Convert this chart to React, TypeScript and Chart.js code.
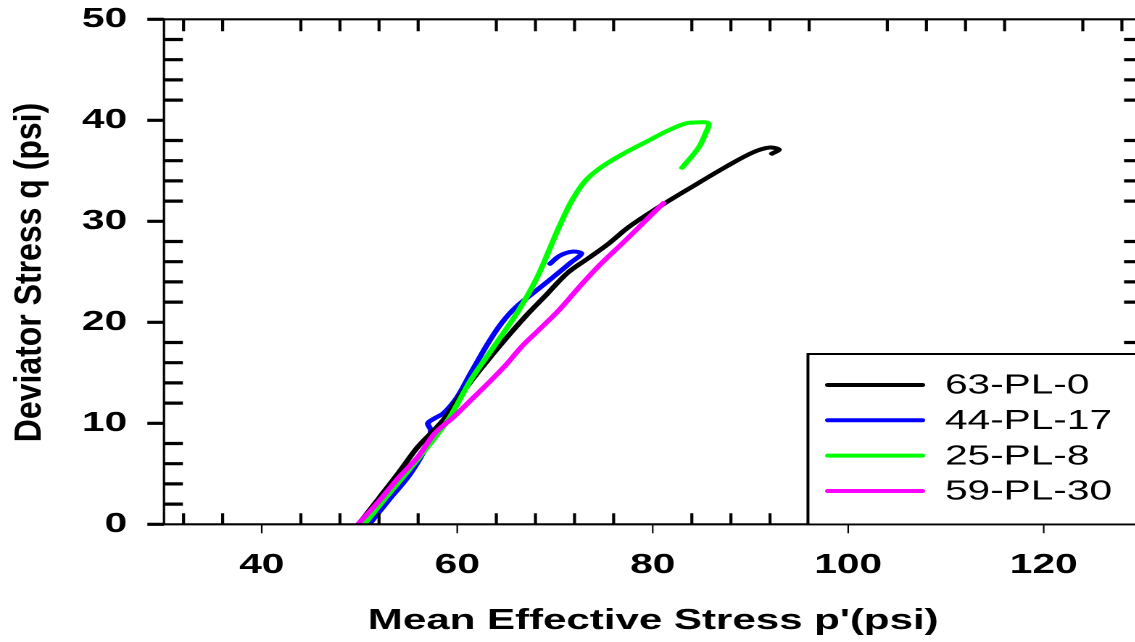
import React, { useEffect, useRef } from "react";
import { Chart, registerables } from "chart.js";

Chart.register(...registerables);

// ---------- data ----------
const seriesLabels = ["63-PL-0", "44-PL-17", "25-PL-8", "59-PL-30"];
const seriesColors = ["#000000", "#0000ff", "#00ff00", "#ff00ff"];

const blackP = [49.9, 52, 54, 56, 57.7, 58.8, 60.5, 62.5, 64.9, 67.0, 69.0, 71.3, 73.5, 75.5, 77.5, 80.6, 84.0, 87.5, 90.2, 91.9, 92.9, 92.2];
const blackQ = [0, 2.6, 5.1, 7.7, 9.4, 10.6, 13.0, 15.5, 18.3, 20.6, 22.6, 24.9, 26.4, 27.8, 29.4, 31.4, 33.4, 35.4, 36.8, 37.3, 37.1, 36.7];

const blueP = [51.0, 53, 55.2, 57.0, 57.3, 57.0, 57.7, 58.6, 60.0, 61.4, 63.2, 64.6, 66.0, 68.3, 70.1, 71.6, 72.7, 71.8, 70.5, 69.5];
const blueQ = [0, 2.4, 5.0, 8.0, 9.3, 10.0, 10.5, 11.0, 12.6, 15.0, 18.0, 20.0, 21.5, 23.3, 24.7, 25.9, 26.8, 27.0, 26.6, 25.8];

const greenP = [50.5, 53, 55, 57.0, 59.1, 61.4, 63.9, 66.3, 68.2, 69.6, 70.4, 71.7, 73.1, 74.8, 77.2, 79.6, 81.6, 83.4, 84.7, 85.7, 85.4, 84.7, 83.0];
const greenQ = [0, 3.0, 5.3, 7.7, 10.4, 14.3, 17.8, 21.2, 24.5, 27.6, 29.4, 32.0, 34.0, 35.4, 36.8, 38.0, 39.0, 39.7, 39.8, 39.7, 38.7, 37.3, 35.3];

const magentaP = [49.85, 52, 54, 56.0, 57.7, 59.6, 61.4, 63.3, 65.0, 66.6, 68.3, 70.4, 72.4, 74.5, 77.2, 79.3, 81.1];
const magentaQ = [0, 2.3, 4.6, 6.7, 9.0, 10.6, 12.3, 14.1, 15.8, 17.6, 19.2, 21.2, 23.4, 25.6, 28.1, 30.1, 31.8];

const seriesP = [blackP, blueP, greenP, magentaP];
const seriesQ = [blackQ, blueQ, greenQ, magentaQ];
const drawOrder = [2, 3, 1, 0];

const xMajorTicks = [40, 60, 80, 100, 120];
const xMinorTicks = [32, 36, 44, 48, 52, 56, 64, 68, 72, 76, 84, 88, 92, 96, 104, 108, 112, 116, 124, 128];
const yMajorTicks = [0, 10, 20, 30, 40, 50];
const yMinorTicks = [2, 4, 6, 8, 12, 14, 16, 18, 22, 24, 26, 28, 32, 34, 36, 38, 42, 44, 46, 48];

const xTitle = "Mean Effective Stress p'(psi)";
const yTitle = "Deviator Stress q (psi)";

const FONT = "'Liberation Sans', Arial, sans-serif";
const STRETCH = 1.45;

const framePlugin = {
  id: "framePlugin",
  afterDraw(chart: any) {
    const ctx = chart.ctx as CanvasRenderingContext2D;
    const { left, right, top, bottom } = chart.chartArea;
    const xs = chart.scales.x;
    const ys = chart.scales.y;
    ctx.save();
    ctx.strokeStyle = "#000";
    ctx.lineCap = "butt";

    // frame
    ctx.lineWidth = 2.2;
    ctx.beginPath();
    ctx.moveTo(left - 0.8, top);
    ctx.lineTo(right, top);
    ctx.moveTo(left - 0.8, bottom);
    ctx.lineTo(right, bottom);
    ctx.stroke();
    ctx.lineWidth = 1.6;
    ctx.beginPath();
    ctx.moveTo(left, top);
    ctx.lineTo(left, bottom);
    ctx.moveTo(right, top);
    ctx.lineTo(right, bottom);
    ctx.stroke();

    // y ticks
    ctx.lineWidth = 3.2;
    ctx.beginPath();
    for (const v of yMinorTicks) {
      const y = ys.getPixelForValue(v);
      ctx.moveTo(left, y);
      ctx.lineTo(left + 13, y);
      ctx.moveTo(right, y);
      ctx.lineTo(right - 12, y);
    }
    for (const v of yMajorTicks) {
      const y = ys.getPixelForValue(v);
      ctx.moveTo(left - 11.5, y);
      ctx.lineTo(left, y);
    }
    ctx.stroke();

    // x ticks
    ctx.lineWidth = 2.1;
    ctx.beginPath();
    for (const v of xMinorTicks) {
      const x = xs.getPixelForValue(v);
      ctx.moveTo(x, bottom);
      ctx.lineTo(x, bottom - 11);
      ctx.moveTo(x, top);
      ctx.lineTo(x, top + 12);
    }
    ctx.stroke();
    ctx.lineWidth = 1.1;
    ctx.beginPath();
    for (const v of xMajorTicks) {
      const x = xs.getPixelForValue(v);
      ctx.moveTo(x, bottom);
      ctx.lineTo(x, bottom + 9);
    }
    ctx.stroke();

    // legend
    const lgLeft = 557.2;
    const lgTop = 354;
    ctx.fillStyle = "#fff";
    ctx.fillRect(lgLeft, lgTop, chart.width - lgLeft + 5, bottom - lgTop);
    ctx.lineWidth = 2;
    ctx.beginPath();
    ctx.moveTo(lgLeft, bottom);
    ctx.lineTo(lgLeft, lgTop);
    ctx.lineTo(chart.width + 5, lgTop);
    ctx.stroke();
    ctx.lineWidth = 1.6;
    ctx.beginPath();
    ctx.moveTo(lgLeft - 1, bottom);
    ctx.lineTo(chart.width, bottom);
    ctx.stroke();
    const rowY = [385, 420.3, 455.6, 491];
    ctx.font = `28px ${FONT}`;
    ctx.textBaseline = "middle";
    ctx.textAlign = "left";
    seriesLabels.forEach((lab, i) => {
      ctx.strokeStyle = seriesColors[i];
      ctx.lineWidth = 4;
      ctx.lineCap = "round";
      ctx.beginPath();
      ctx.moveTo(571, rowY[i]);
      ctx.lineTo(636, rowY[i]);
      ctx.stroke();
      ctx.fillStyle = "#000";
      ctx.fillText(lab, 651.7, rowY[i] + 1);
    });

    // axis titles
    ctx.fillStyle = "#000";
    ctx.font = `bold 29px ${FONT}`;
    ctx.textAlign = "center";
    ctx.textBaseline = "middle";
    ctx.fillText(xTitle, 450.5, 621);

    ctx.save();
    ctx.translate(19.7, 272.5);
    ctx.rotate(-Math.PI / 2);
    ctx.scale(1.23, 1);
    ctx.font = `bold 26px ${FONT}`;
    ctx.fillText(yTitle, 0, 1);
    ctx.restore();

    ctx.restore();
  },
};

export default function App() {
  const canvasRef = useRef<HTMLCanvasElement | null>(null);

  useEffect(() => {
    const canvas = canvasRef.current;
    if (!canvas) return;
    const datasets = seriesLabels.map((label, i) => ({
      label,
      data: seriesP[i].map((p, k) => ({ x: p, y: seriesQ[i][k] })),
      borderColor: seriesColors[i],
      backgroundColor: seriesColors[i],
      borderWidth: 4,
      borderJoinStyle: "round",
      borderCapStyle: "round",
      pointRadius: 0,
      showLine: true,
      tension: 0.35,
      fill: false,
      order: drawOrder[i],
    }));
    const chart = new Chart(canvas, {
      type: "scatter",
      data: { datasets },
      plugins: [framePlugin],
      options: {
        animation: false,
        responsive: true,
        maintainAspectRatio: false,
        devicePixelRatio: 2,
        layout: { padding: { top: 19.3, right: 12.8, left: 0, bottom: 0 } },
        plugins: {
          legend: { display: false },
          tooltip: { enabled: false },
        },
        scales: {
          x: {
            type: "linear",
            min: 30,
            max: 130,
            grid: { display: false, drawTicks: false },
            border: { display: false },
            afterBuildTicks: (s: any) => {
              s.ticks = xMajorTicks.map((v) => ({ value: v }));
            },
            afterFit: (s: any) => {
              s.height = 642 - 524.3;
              s.paddingLeft = 0;
              s.paddingRight = 0;
            },
            ticks: {
              padding: 24,
              color: "#000",
              autoSkip: false,
              maxRotation: 0,
              font: { family: FONT, size: 28, weight: "bold" },
            },
          },
          y: {
            type: "linear",
            min: 0,
            max: 50,
            grid: { display: false, drawTicks: false },
            border: { display: false },
            afterBuildTicks: (s: any) => {
              s.ticks = yMajorTicks.map((v) => ({ value: v }));
            },
            afterFit: (s: any) => {
              s.width = 113.1;
              s.paddingTop = 0;
              s.paddingBottom = 0;
            },
            ticks: {
              padding: 25.4,
              color: "#000",
              autoSkip: false,
              font: { family: FONT, size: 28, weight: "bold" },
            },
          },
        },
      } as any,
    });
    return () => chart.destroy();
  }, []);

  return (
    <div
      style={{
        position: "absolute",
        left: 0,
        top: 0,
        width: 1135,
        height: 642,
        overflow: "hidden",
        background: "#fff",
      }}
    >
      <div
        style={{
          position: "absolute",
          left: 0,
          top: 0,
          width: 800,
          height: 642,
          transform: `scaleX(${STRETCH})`,
          transformOrigin: "0 0",
        }}
      >
        <canvas ref={canvasRef} />
      </div>
    </div>
  );
}
